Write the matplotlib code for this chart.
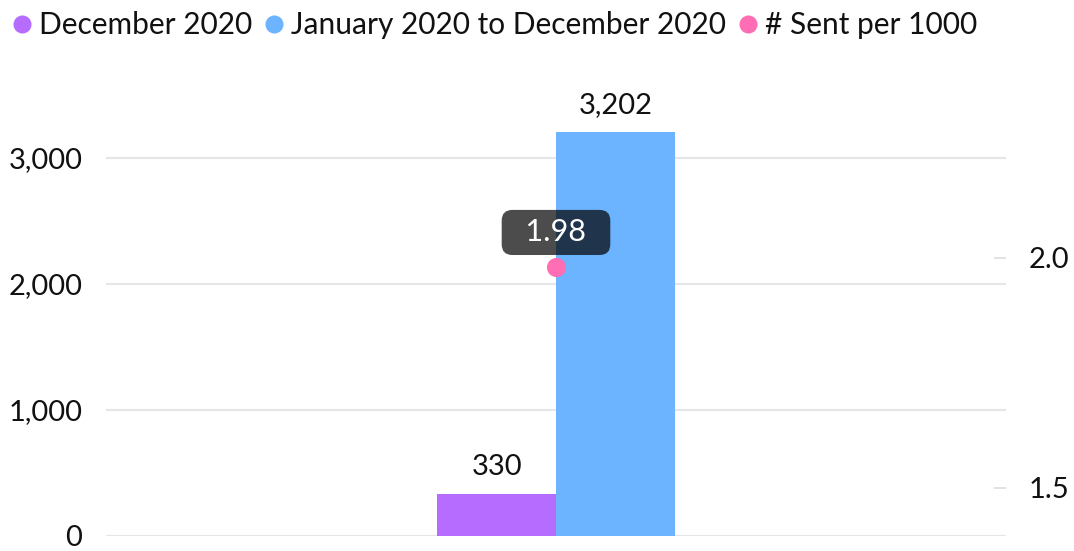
import matplotlib
matplotlib.use("Agg")
import matplotlib.pyplot as plt
from matplotlib.lines import Line2D
from matplotlib.ticker import FuncFormatter

plt.rcParams['font.family'] = ['Lato', 'DejaVu Sans']

categories = [""]
series_names = ["December 2020", "January 2020 to December 2020"]
series_values = [[330], [3202]]
series_colors = ["#b66cff", "#6cb4ff"]
rate_name = "# Sent per 1000"
rate_values = [1.98]
rate_color = "#ff6db5"

left_ticks = [0, 1000, 2000, 3000]
right_ticks = [1.5, 2.0]

fig = plt.figure(figsize=(10.74, 5.51), dpi=100)
ax = fig.add_axes([106 / 1074, 15.5 / 551, 900 / 1074, 441 / 551])
ax2 = ax.twinx()

bar_w = 0.132
x = list(range(len(categories)))
for i, (name, vals, col) in enumerate(zip(series_names, series_values, series_colors)):
    offs = (i - 0.5) * bar_w
    bars = ax.bar([xi + offs for xi in x], vals, width=bar_w, color=col, zorder=2)
    for b, v in zip(bars, vals):
        ax.annotate(f"{v:,}", (b.get_x() + b.get_width() / 2, v),
                    xytext=(0, 10), textcoords="offset points",
                    ha="center", va="bottom", fontsize=21, color="#111111")

ax.set_xlim(-0.5, 0.5)
ax.set_ylim(0, 3500)
ax.set_yticks(left_ticks)
ax.yaxis.set_major_formatter(FuncFormatter(lambda v, p: f"{int(v):,}"))
ax.tick_params(axis="y", length=0, pad=17, labelsize=21, labelcolor="#111111")
ax.set_xticks([])
ax.grid(axis="y", color="#e6e6e6", linewidth=1.5, zorder=0)
ax.set_axisbelow(True)
for s in ax.spines.values():
    s.set_visible(False)

ax2.set_ylim(1.3967, 2.3554)
ax2.set_yticks(right_ticks)
ax2.set_yticklabels([f"{t:.1f}" for t in right_ticks])
ax2.tick_params(axis="y", direction="in", length=9, width=1.2, color="#dddddd",
                pad=16, labelsize=21, labelcolor="#111111")
for s in ax2.spines.values():
    s.set_visible(False)

ax2.scatter(x, rate_values, s=190, color=rate_color, zorder=5, linewidths=0)
for xi, v in zip(x, rate_values):
    ax2.annotate(f"  {v:.2f}  ", (xi, v), xytext=(0, 25), textcoords="offset points",
                 ha="center", va="center", fontsize=22, color="white", zorder=6,
                 bbox=dict(boxstyle="round,pad=0.28,rounding_size=0.35",
                           fc=(0, 0, 0, 0.7), ec="none"))

handles = [Line2D([], [], marker="o", linestyle="none", markersize=13,
                  markerfacecolor=c, markeredgewidth=0)
           for c in series_colors + [rate_color]]
fig.legend(handles, series_names + [rate_name], loc="upper left",
           bbox_to_anchor=(-0.007, 1.018), ncol=3, frameon=False, fontsize=21.5,
           handlelength=0.6, handletextpad=0.25, columnspacing=0.45,
           borderaxespad=0.3, labelcolor="#111111")

fig.savefig("out.png", dpi=100)
